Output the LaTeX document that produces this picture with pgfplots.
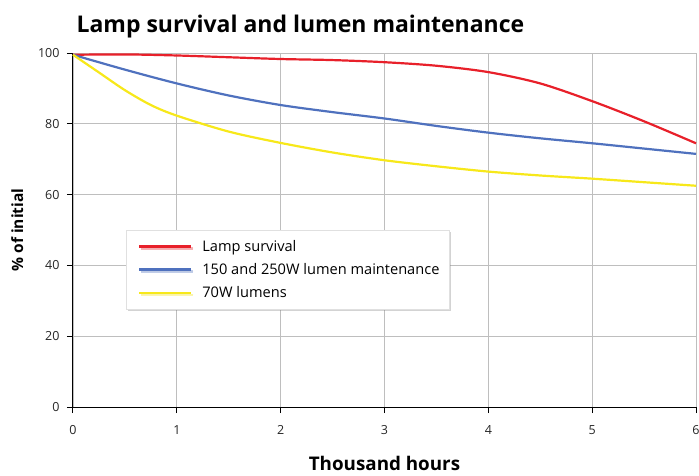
\documentclass[border=0pt]{standalone}
\usepackage{fontspec}
\setmainfont{Open Sans}
\usepackage{pgfplots}
\pgfplotsset{compat=1.18}
\usetikzlibrary{shadows}
\definecolor{cred}{HTML}{E8202A}
\definecolor{cblue}{HTML}{4F71BE}
\definecolor{cyel}{HTML}{F7E81A}
\definecolor{cgrid}{HTML}{BEBEBE}
\begin{document}
\begin{tikzpicture}
\begin{axis}[
  at={(0,0)}, anchor=south west,
  scale only axis, width=623pt, height=354pt,
  xmin=0, xmax=6, ymin=0, ymax=100,
  xtick={0,1,...,6}, ytick={0,20,...,100},
  /pgf/number format/assume math mode=true,
  tick label style={font=\fontsize{12.5}{15}\selectfont, color=black!85},
  grid=major, major grid style={cgrid, line width=0.9pt},
  axis lines=left, axis line style={-, black, line width=1pt},
  tick align=outside, major tick length=6pt,
  tick style={black, line width=1pt},
  xticklabel style={yshift=-9pt},
  yticklabel style={xshift=-4pt},
  xlabel={\textbf{Thousand hours}}, ylabel={\textbf{\% of initial}},
  xlabel style={font=\fontsize{18.8}{22}\selectfont, yshift=-15pt},
  ylabel style={font=\fontsize{15.5}{18}\selectfont, yshift=8pt},
  legend style={at={(0.085,0.5)}, anchor=north west, draw=black!12, fill=white,
    drop shadow={shadow xshift=2pt, shadow yshift=-2pt, opacity=0.35},
    font=\fontsize{14.6}{17}\selectfont, inner xsep=8pt, inner ysep=8pt, row sep=6.5pt},
  legend cell align=left,
  legend image code/.code={\path (0pt,0pt); \draw[#1, line width=2.2pt] (4pt,0pt) -- (56pt,0pt); \path (64pt,0pt);},
  every axis plot/.append style={line width=2.2pt, smooth},
  clip=false,
]
\addplot[cred] coordinates {(0,99.5) (0.5,99.6) (1,99.3) (1.5,98.8) (2,98.3) (2.5,98.0) (3,97.4) (3.5,96.4) (4,94.6) (4.5,91.4) (5,86.4) (5.5,80.7) (6,74.5)};
\addlegendentry{Lamp survival}
\addplot[cblue] coordinates {(0,99.5) (0.5,95.3) (1,91.4) (1.5,88.0) (2,85.3) (2.5,83.3) (3,81.5) (3.5,79.4) (4,77.5) (4.5,75.9) (5,74.5) (5.5,73.0) (6,71.5)};
\addlegendentry{150 and 250W lumen maintenance}
\addplot[cyel] coordinates {(0,99.5) (0.25,94.5) (0.5,89.5) (0.75,85.3) (1,82.3) (1.5,77.8) (2,74.6) (2.5,71.9) (3,69.7) (3.5,68.0) (4,66.5) (4.5,65.4) (5,64.5) (5.5,63.5) (6,62.5)};
\addlegendentry{70W lumens}
\end{axis}
\node[anchor=west, font=\fontsize{23}{27}\bfseries\selectfont] at (0pt,380pt) {Lamp survival and lumen maintenance};
\pgfresetboundingbox
\path[use as bounding box] (-73pt,-68pt) rectangle (626pt,407pt);
\end{tikzpicture}
\end{document}
